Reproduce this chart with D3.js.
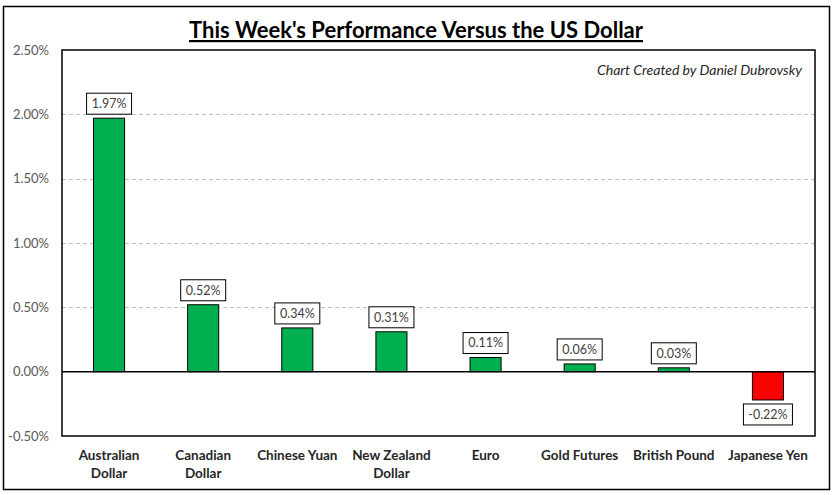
<!DOCTYPE html>
<html>
<head>
<meta charset="utf-8">
<script src="https://cdn.jsdelivr.net/npm/d3@7"></script>
<style>
  body { margin: 0; background: #fff; }
  svg { display: block; }
</style>
</head>
<body>
<div id="chart"></div>
<script>
const categories = [
  ['Australian', 'Dollar'],
  ['Canadian', 'Dollar'],
  ['Chinese Yuan'],
  ['New Zealand', 'Dollar'],
  ['Euro'],
  ['Gold Futures'],
  ['British Pound'],
  ['Japanese Yen']
]
const values = [1.97, 0.52, 0.34, 0.31, 0.11, 0.06, 0.03, -0.22]
const yTicks = [-0.5, 0, 0.5, 1.0, 1.5, 2.0, 2.5]

const width = 837
const height = 495
const plot = { left: 62, top: 50, right: 815, bottom: 436 }
const font = 'Lato, "Open Sans", sans-serif'

// Excel style: plain hyphen for negatives
const pct = d => d3.format('.2f')(d).replace('\u2212', '-') + '%'

const svg = d3.select('#chart')
  .append('svg')
  .attr('width', width)
  .attr('height', height)

// outer frame
svg.append('rect')
  .attr('x', 3.5).attr('y', 6.5)
  .attr('width', 826).attr('height', 483)
  .attr('fill', '#fff')
  .attr('stroke', '#000')
  .attr('stroke-width', 1.5)

const x = d3.scaleBand()
  .domain(d3.range(categories.length))
  .range([plot.left, plot.right])
  .paddingInner(0.67)
  .paddingOuter(0.335)

const y = d3.scaleLinear()
  .domain([-0.5, 2.5])
  .range([plot.bottom, plot.top])

// gridlines
svg.append('g')
  .selectAll('line')
  .data(yTicks.filter(d => d > 0 && d < 2.5))
  .enter()
  .append('line')
  .attr('x1', plot.left).attr('x2', plot.right)
  .attr('y1', d => Math.round(y(d)) + 0.5)
  .attr('y2', d => Math.round(y(d)) + 0.5)
  .attr('stroke', '#bfbfbf')
  .attr('stroke-dasharray', '4,3')

// y axis labels
const yAxis = d3.axisLeft(y)
  .tickValues(yTicks)
  .tickSize(0)
  .tickPadding(13)
  .tickFormat(pct)

svg.append('g')
  .attr('transform', `translate(${plot.left},0)`)
  .call(yAxis)
  .call(g => g.select('.domain').remove())
  .selectAll('text')
  .attr('font-family', font)
  .attr('font-size', 13)
  .attr('fill', '#595959')

// bars
svg.append('g')
  .selectAll('rect')
  .data(values)
  .enter()
  .append('rect')
  .attr('x', (d, i) => x(i))
  .attr('width', x.bandwidth())
  .attr('y', d => y(Math.max(0, d)))
  .attr('height', d => Math.abs(y(d) - y(0)))
  .attr('fill', d => d >= 0 ? '#00b050' : '#ff0000')
  .attr('stroke', '#000')
  .attr('stroke-width', 1)

// zero line
svg.append('line')
  .attr('x1', plot.left).attr('x2', plot.right)
  .attr('y1', y(0)).attr('y2', y(0))
  .attr('stroke', '#000')
  .attr('stroke-width', 1.5)

// plot border
svg.append('rect')
  .attr('x', plot.left).attr('y', plot.top)
  .attr('width', plot.right - plot.left)
  .attr('height', plot.bottom - plot.top)
  .attr('fill', 'none')
  .attr('stroke', '#000')
  .attr('stroke-width', 1.5)

// data labels: boxed, sized to the text
const boxH = 21
const labels = svg.append('g')
  .selectAll('g')
  .data(values)
  .enter()
  .append('g')
  .attr('transform', (d, i) => {
    const cx = x(i) + x.bandwidth() / 2
    const top = d >= 0 ? y(d) - 4 - boxH : y(d) + 4
    return `translate(${cx},${top})`
  })

const boxes = labels.append('rect')
  .attr('height', boxH)
  .attr('fill', '#fff')
  .attr('stroke', '#000')
  .attr('stroke-width', 1)

const labelText = labels.append('text')
  .attr('y', boxH / 2)
  .attr('dy', '0.35em')
  .attr('text-anchor', 'middle')
  .attr('font-family', font)
  .attr('font-size', 12.5)
  .attr('fill', '#404040')
  .text(pct)

boxes.each(function (d, i) {
  const w = Math.round(labelText.nodes()[i].getBBox().width) + 10
  d3.select(this).attr('x', -w / 2).attr('width', w)
})

// category labels
const cats = svg.append('g')
  .selectAll('text')
  .data(categories)
  .enter()
  .append('text')
  .attr('x', (d, i) => x(i) + x.bandwidth() / 2)
  .attr('y', 460)
  .attr('text-anchor', 'middle')
  .attr('font-family', font)
  .attr('font-size', 13.5)
  .attr('font-weight', 'bold')
  .attr('fill', '#262626')

cats.selectAll('tspan')
  .data(d => d)
  .enter()
  .append('tspan')
  .attr('x', function () { return d3.select(this.parentNode).attr('x') })
  .attr('dy', (d, i) => i === 0 ? 0 : 18)
  .text(d => d)

// title
svg.append('text')
  .attr('x', 416)
  .attr('y', 38)
  .attr('text-anchor', 'middle')
  .attr('font-family', font)
  .attr('font-size', 22)
  .attr('font-weight', 'bold')
  .attr('text-decoration', 'underline')
  .attr('fill', '#000')
  .text("This Week's Performance Versus the US Dollar")

// credit
svg.append('text')
  .attr('x', 802)
  .attr('y', 75)
  .attr('text-anchor', 'end')
  .attr('font-family', font)
  .attr('font-size', 14)
  .attr('font-style', 'italic')
  .attr('fill', '#262626')
  .text('Chart Created by Daniel Dubrovsky')
</script>
</body>
</html>
